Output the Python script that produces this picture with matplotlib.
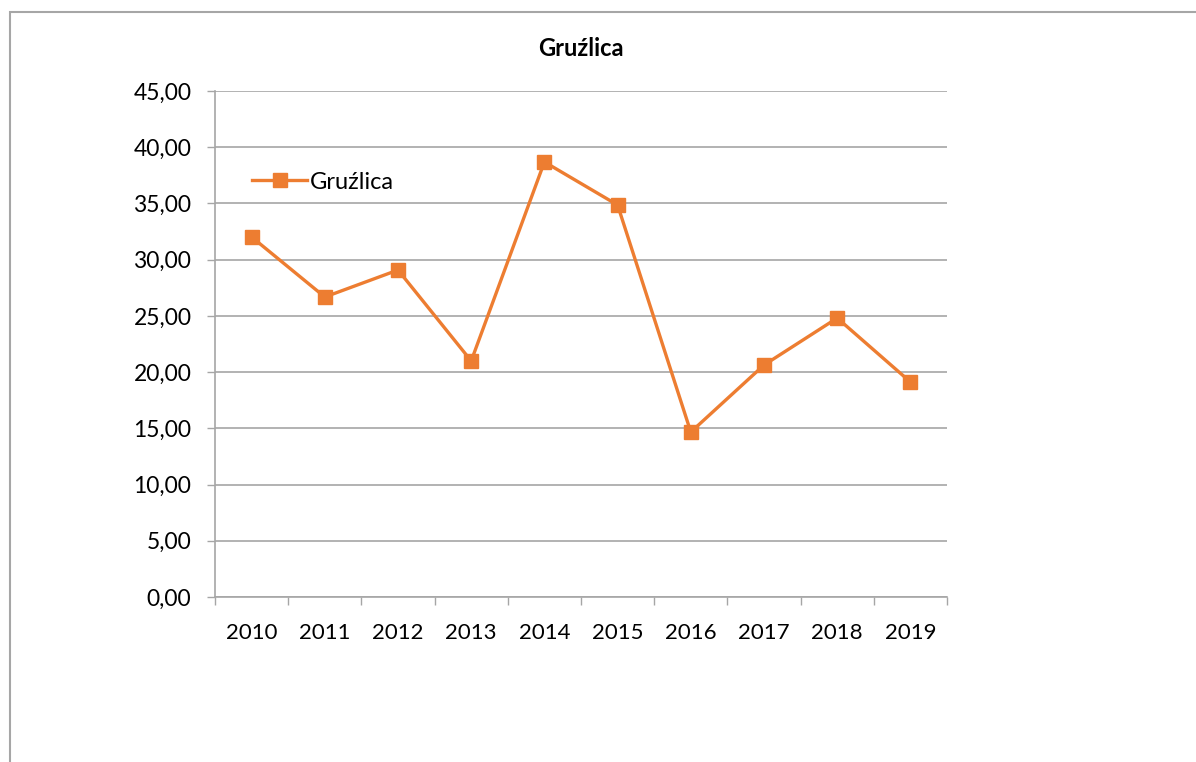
import numpy as np
import matplotlib
matplotlib.use("Agg")
import matplotlib.pyplot as plt
from matplotlib.patches import Rectangle
from matplotlib.ticker import FuncFormatter

lata = ["2010", "2011", "2012", "2013", "2014", "2015", "2016", "2017", "2018", "2019"]
gruzlica = [32.02, 26.68, 29.08, 20.99, 38.69, 34.86, 14.67, 20.63, 24.81, 19.12]

plt.rcParams['font.family'] = ['Lato', 'DejaVu Sans']

W, H = 1196, 762
fig = plt.figure(figsize=(W / 100, H / 100), dpi=100)

# ramka wykresu (wychodzi poza obraz z prawej i u dołu)
fig.patches.append(Rectangle((10 / W, -0.1), 1.2, (H - 12) / H + 0.1,
                             transform=fig.transFigure, fill=False,
                             edgecolor='#a6a6a6', lw=1.5))

ax = fig.add_axes([215 / W, (H - 597) / H, (947 - 215) / W, (597 - 91) / H])

x = np.arange(len(lata))
orange = '#ED7D31'
ax.plot(x, gruzlica, color=orange, lw=2.4, marker='s', markersize=9.5,
        label='Gruźlica', zorder=3)

ax.set_xlim(-0.5, len(lata) - 0.5)
ax.set_ylim(0, 45)
ax.set_yticks(np.arange(0, 46, 5))
ax.yaxis.set_major_formatter(FuncFormatter(lambda v, p: f"{v:.2f}".replace('.', ',')))
ax.grid(axis='y', color='#a6a6a6', lw=1.2)
ax.set_axisbelow(True)

ax.set_xticks(np.arange(-0.5, len(lata), 1.0))
ax.set_xticklabels([])
ax.set_xticks(x, minor=True)
ax.set_xticklabels(lata, minor=True, fontsize=16)
ax.tick_params(axis='x', which='major', length=6, color='#a6a6a6', width=1)
ax.tick_params(axis='x', which='minor', length=0, pad=19)
ax.tick_params(axis='y', length=6, color='#a6a6a6', width=1, labelsize=16.5, pad=11)

for s in ['top', 'right']:
    ax.spines[s].set_visible(False)
ax.spines['left'].set_color('#a6a6a6')
ax.spines['bottom'].set_color('#a6a6a6')
ax.spines['left'].set_linewidth(1.2)
ax.spines['bottom'].set_linewidth(1.2)

ax.set_title('Gruźlica', fontsize=17, fontweight='bold', pad=25)

ax.legend(loc='center left', bbox_to_anchor=(0.022, 0.82), frameon=False,
          fontsize=17, handlelength=2.3, handletextpad=0.15)

fig.savefig('out.png', dpi=100)
